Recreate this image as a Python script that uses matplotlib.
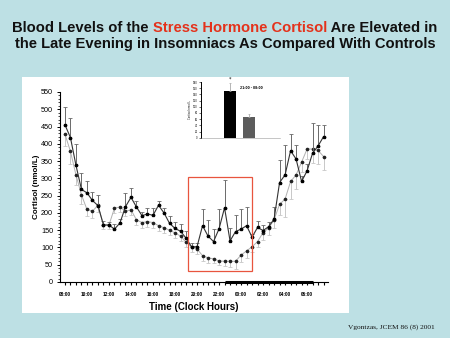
import numpy as np
import matplotlib
matplotlib.use("Agg")
import matplotlib.pyplot as plt
from matplotlib.patches import Rectangle

# half-hourly sampling, hours after 08:00
hours = np.arange(48) * 0.5

insomniacs = [455, 418, 338, 268, 258, 236, 221, 165, 165, 153, 171, 218,
              245, 217, 192, 197, 193, 222, 200, 170, 155, 147, 127, 102,
              102, 163, 133, 117, 154, 215, 119, 146, 153, 163, 130, 158,
              149, 160, 182, 288, 310, 380, 356, 291, 322, 373, 394, 421]
insomniacs_err = [52, 57, 62, 48, 34, 25, 30, 12, 10, 15, 10, 40,
                  27, 18, 12, 18, 20, 12, 15, 20, 20, 20, 20, 10,
                  10, 48, 47, 37, 57, 81, 38, 48, 58, 53, 10, 20,
                  15, 15, 36, 66, 87, 48, 41, 15, 20, 87, 61, 34]

controls = [428, 378, 310, 252, 210, 205, 222, 165, 165, 214, 217, 205,
            209, 180, 172, 175, 172, 163, 157, 150, 142, 133, 115, 102,
            96, 76, 70, 67, 61, 60, 60, 60, 78, 90, 102, 117,
            143, 156, 180, 225, 240, 291, 310, 347, 385, 385, 381, 363]
controls_err = [33, 35, 30, 25, 20, 20, 20, 12, 12, 15, 15, 15,
                15, 15, 15, 15, 15, 15, 15, 15, 15, 15, 15, 15,
                15, 15, 15, 12, 12, 15, 18, 21, 20, 20, 15, 15,
                20, 20, 25, 30, 51, 50, 40, 30, 30, 40, 40, 40]

tick_labels = ["08:00", "10:00", "12:00", "14:00", "16:00", "18:00",
               "20:00", "22:00", "00:00", "02:00", "04:00", "06:00"]

# inset: 21:00-08:00 mean cortisol
inset_groups = ["Insomniacs", "Controls"]
inset_means = [151, 68]
inset_errs = [27, 8]

bg = "#bde0e4"
W, H = 450, 338
fig = plt.figure(figsize=(4.5, 3.38), dpi=100, facecolor=bg)

def fx(px):
    return px / W

def fy(py):
    return 1 - py / H

# white panel
fig.add_artist(Rectangle((fx(22), fy(313)), fx(349) - fx(22), fy(77) - fy(313),
                         transform=fig.transFigure, facecolor="white",
                         edgecolor="none", zorder=0))

# two-line title, one phrase in red
renderer = fig.canvas.get_renderer()
tkw = dict(fontsize=10.6, fontweight="bold", family="Liberation Sans", va="center")
lines = [[("Blood Levels of the ", "#111111"), ("Stress Hormone Cortisol", "#e4321b"),
          (" Are Elevated in", "#111111")],
         [("the Late Evening in Insomniacs As Compared With Controls", "#111111")]]
for row, ypix in zip(lines, [27.5, 44]):
    widths = []
    for s, c in row:
        t = fig.text(0, 0, s, **tkw)
        widths.append(t.get_window_extent(renderer).width)
        t.remove()
    x = (W - sum(widths)) / 2
    for (s, c), w in zip(row, widths):
        fig.text(x / W, fy(ypix), s, color=c, ha="left", **tkw)
        x += w

# main axes
ax = fig.add_axes([fx(60), fy(282), fx(328) - fx(60), fy(92) - fy(282)])
ax.set_facecolor("white")
ax.set_xlim(-0.45, 23.9)
ax.set_ylim(0, 550)

ax.errorbar(hours, controls, yerr=[controls_err, np.zeros(48)], fmt="none",
            ecolor="#c8c8c8", elinewidth=0.7, capsize=1.5, capthick=0.6, zorder=2)
ax.plot(hours, controls, color="#b0b0b0", lw=0.7, marker="o", ms=1.6,
        mfc="#222222", mec="#222222", zorder=3)
ax.errorbar(hours, insomniacs, yerr=[np.zeros(48), insomniacs_err], fmt="none",
            ecolor="#6a6a6a", elinewidth=0.7, capsize=1.5, capthick=0.6, zorder=4)
ax.plot(hours, insomniacs, color="#333333", lw=0.8, marker="s", ms=1.9,
        mfc="black", mec="black", zorder=5)

# red highlight box (19:10 - 01:00)
ax.add_patch(Rectangle((11.2, 32), 5.8, 272, fill=False, edgecolor="#e8553e",
                       lw=0.9, zorder=6))
# sleep period bar
ax.plot([14.5, 22.5], [0, 0], color="black", lw=2.2, solid_capstyle="butt",
        clip_on=False, zorder=7)

for s in ["top", "right"]:
    ax.spines[s].set_visible(False)
for s in ["left", "bottom"]:
    ax.spines[s].set_linewidth(0.8)
ax.set_xticks(np.arange(0, 23, 2))
ax.set_xticks(np.arange(0, 24, 0.5), minor=True)
ax.set_xticklabels(tick_labels, fontsize=3.4, fontweight="bold", family="Liberation Sans")
ax.set_yticks(np.arange(0, 551, 50))
ax.set_yticks(np.arange(0, 551, 10), minor=True)
ax.tick_params(axis="y", labelsize=5.2, length=2.5, width=0.7, pad=2.5)
ax.tick_params(axis="y", which="minor", length=1.5, width=0.5)
ax.tick_params(axis="x", length=2.5, width=0.8, pad=5)
ax.tick_params(axis="x", which="minor", length=2.5, width=0.8)
for lab in ax.get_yticklabels():
    lab.set_family("Liberation Sans")
ax.set_xlabel("Time (Clock Hours)", fontsize=7, fontweight="bold",
              family="Liberation Sans", labelpad=3)
ax.set_ylabel("Cortisol (nmol/L)", fontsize=5.8, fontweight="bold",
              family="Liberation Sans", va="center")
ax.yaxis.set_label_coords(-0.086, 0.5)

# inset bar chart
ins = fig.add_axes([fx(200.7), fy(137.7), fx(280) - fx(200.7), fy(82) - fy(137.7)])
ins.patch.set_alpha(0)
ins.set_xlim(0, 4)
ins.set_ylim(0, 180)
ins.bar([1.48, 2.43], inset_means, width=0.6, color=["black", "#5c5c5c"],
        yerr=[[0, 0], inset_errs], error_kw=dict(ecolor="#aaaaaa", elinewidth=0.6,
                                                 capsize=1, capthick=0.5))
ins.text(1.48, 182, "*", fontsize=3.5, ha="center", va="bottom")
ins.text(2.0, 160, "21:00 - 08:00", fontsize=2.2, fontweight="bold", va="center")
for s in ["top", "right"]:
    ins.spines[s].set_visible(False)
ins.spines["left"].set_linewidth(0.7)
ins.spines["bottom"].set_linewidth(0.4)
ins.spines["bottom"].set_color("#999999")
ins.set_xticks([])
ins.set_yticks(np.arange(0, 181, 20))
ins.tick_params(axis="y", labelsize=1.8, length=1.2, width=0.4, pad=1)
ins.set_ylabel("Cortisol nmol/L", fontsize=1.8, labelpad=1)

fig.text(fx(435), fy(327), "Vgontzas, JCEM 86 (8) 2001", fontsize=5.3,
         family="Liberation Serif", ha="right", va="center", color="#111111")

fig.savefig("out.png", dpi=100, facecolor=bg)
